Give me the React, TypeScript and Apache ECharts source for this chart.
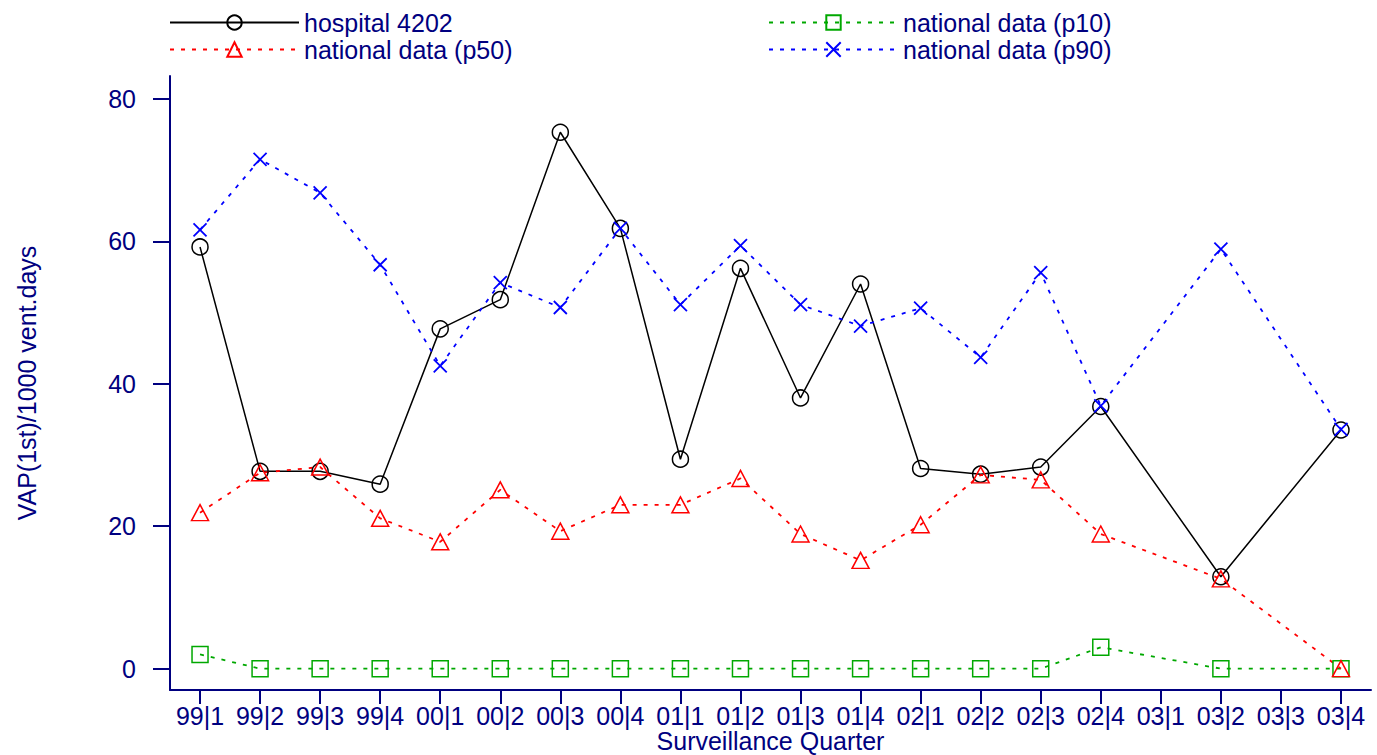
import React, { useEffect, useRef } from 'react';
import * as echarts from 'echarts';

const categories = ['99|1', '99|2', '99|3', '99|4', '00|1', '00|2', '00|3', '00|4', '01|1', '01|2', '01|3', '01|4', '02|1', '02|2', '02|3', '02|4', '03|1', '03|2', '03|3', '03|4'];
const hospital = [59.2, 27.7, 27.7, 25.9, 47.7, 51.8, 75.3, 61.8, 29.4, 56.2, 38.0, 54.0, 28.1, 27.3, 28.3, 36.8, null, 12.9, null, 33.5];
const p10 = [2.0, 0, 0, 0, 0, 0, 0, 0, 0, 0, 0, 0, 0, 0, 0, 3.0, null, 0, null, 0];
const p50 = [21.9, 27.5, 28.3, 21.1, 17.8, 25.1, 19.3, 23.0, 23.0, 26.7, 18.9, 15.2, 20.2, 27.2, 26.5, 18.9, null, 12.6, null, 0];
const p90 = [61.6, 71.5, 66.8, 56.7, 42.5, 54.2, 50.7, 61.8, 51.1, 59.4, 51.1, 48.1, 50.6, 43.7, 55.6, 36.9, null, 58.9, null, 33.6];
const yTicks = [0, 20, 40, 60, 80];

const NAVY = '#000080';
const FONT = 'Liberation Sans, Arial, sans-serif';
const GREEN = '#00a800';
const CLEAR = 'rgba(0,0,0,0)';

export default function App() {
  const ref = useRef<HTMLDivElement>(null);
  useEffect(() => {
    if (!ref.current) return;
    const chart = echarts.init(ref.current, null, { renderer: 'svg' });
    const legendBase = {
      orient: 'vertical',
      top: 10,
      itemWidth: 129,
      itemHeight: 18,
      itemGap: 2,
      padding: 0,
      selectedMode: false,
      textStyle: { fontSize: 25, color: NAVY, fontFamily: FONT },
    };
    chart.setOption({
      animation: false,
      textStyle: { fontFamily: FONT },
      legend: [
        { ...legendBase, left: 169, data: ['hospital 4202', 'national data (p50)'] },
        { ...legendBase, left: 768, data: ['national data (p10)', 'national data (p90)'] },
      ],
      grid: { left: 170, right: 6, top: 76, bottom: 65, containLabel: false, outerBoundsMode: 'none' },
      xAxis: {
        type: 'category',
        data: categories,
        boundaryGap: true,
        name: 'Surveillance Quarter',
        nameLocation: 'middle',
        nameGap: 40.5,
        nameMoveOverlap: false,
        nameTextStyle: { fontSize: 25, lineHeight: 20, color: NAVY, fontFamily: FONT },
        axisLine: { show: true, onZero: false, lineStyle: { color: NAVY, width: 2 } },
        axisTick: { show: true, alignWithLabel: true, length: 14, lineStyle: { color: NAVY, width: 2 } },
        axisLabel: { interval: 0, fontSize: 25, lineHeight: 20, color: NAVY, margin: 15.5, fontFamily: FONT },
        splitLine: { show: false },
      },
      yAxis: {
        type: 'value',
        min: -3,
        max: 83.2,
        name: 'VAP(1st)/1000 vent.days',
        nameLocation: 'middle',
        nameGap: 131,
        nameMoveOverlap: false,
        nameTextStyle: { fontSize: 25, color: NAVY, fontFamily: FONT },
        axisLine: { show: true, onZero: false, lineStyle: { color: NAVY, width: 2 } },
        axisTick: { show: true, length: 17, customValues: yTicks, lineStyle: { color: NAVY, width: 2 } },
        axisLabel: { fontSize: 25, color: NAVY, margin: 34, customValues: yTicks, fontFamily: FONT },
        splitLine: { show: false },
      },
      series: [
        {
          name: 'hospital 4202',
          type: 'line',
          data: hospital,
          connectNulls: true,
          symbol: 'circle',
          symbolSize: 16,
          lineStyle: { color: '#000000', width: 1.5, type: 'solid' },
          itemStyle: { color: CLEAR, borderColor: '#000000', borderWidth: 1.5 },
          emphasis: { disabled: true },
        },
        {
          name: 'national data (p10)',
          type: 'line',
          data: p10,
          connectNulls: true,
          symbol: 'rect',
          symbolSize: 16,
          lineStyle: { color: GREEN, width: 1.8, type: [4, 7] },
          itemStyle: { color: CLEAR, borderColor: GREEN, borderWidth: 1.5 },
          emphasis: { disabled: true },
        },
        {
          name: 'national data (p50)',
          type: 'line',
          data: p50,
          connectNulls: true,
          symbol: 'triangle',
          symbolSize: [17, 16],
          lineStyle: { color: '#ff0000', width: 1.8, type: [4, 7] },
          itemStyle: { color: CLEAR, borderColor: '#ff0000', borderWidth: 1.5 },
          emphasis: { disabled: true },
        },
        {
          name: 'national data (p90)',
          type: 'line',
          data: p90,
          connectNulls: true,
          symbol: 'path://M0,0L10,10M10,0L0,10',
          symbolSize: 13,
          lineStyle: { color: '#0000ff', width: 1.8, type: [4, 7] },
          itemStyle: { color: CLEAR, borderColor: '#0000ff', borderWidth: 1.8 },
          emphasis: { disabled: true },
        },
      ],
    });
    return () => chart.dispose();
  }, []);
  return <div ref={ref} style={{ width: 1377, height: 755, position: 'absolute', left: 0, top: 0, background: '#fff' }} />;
}
